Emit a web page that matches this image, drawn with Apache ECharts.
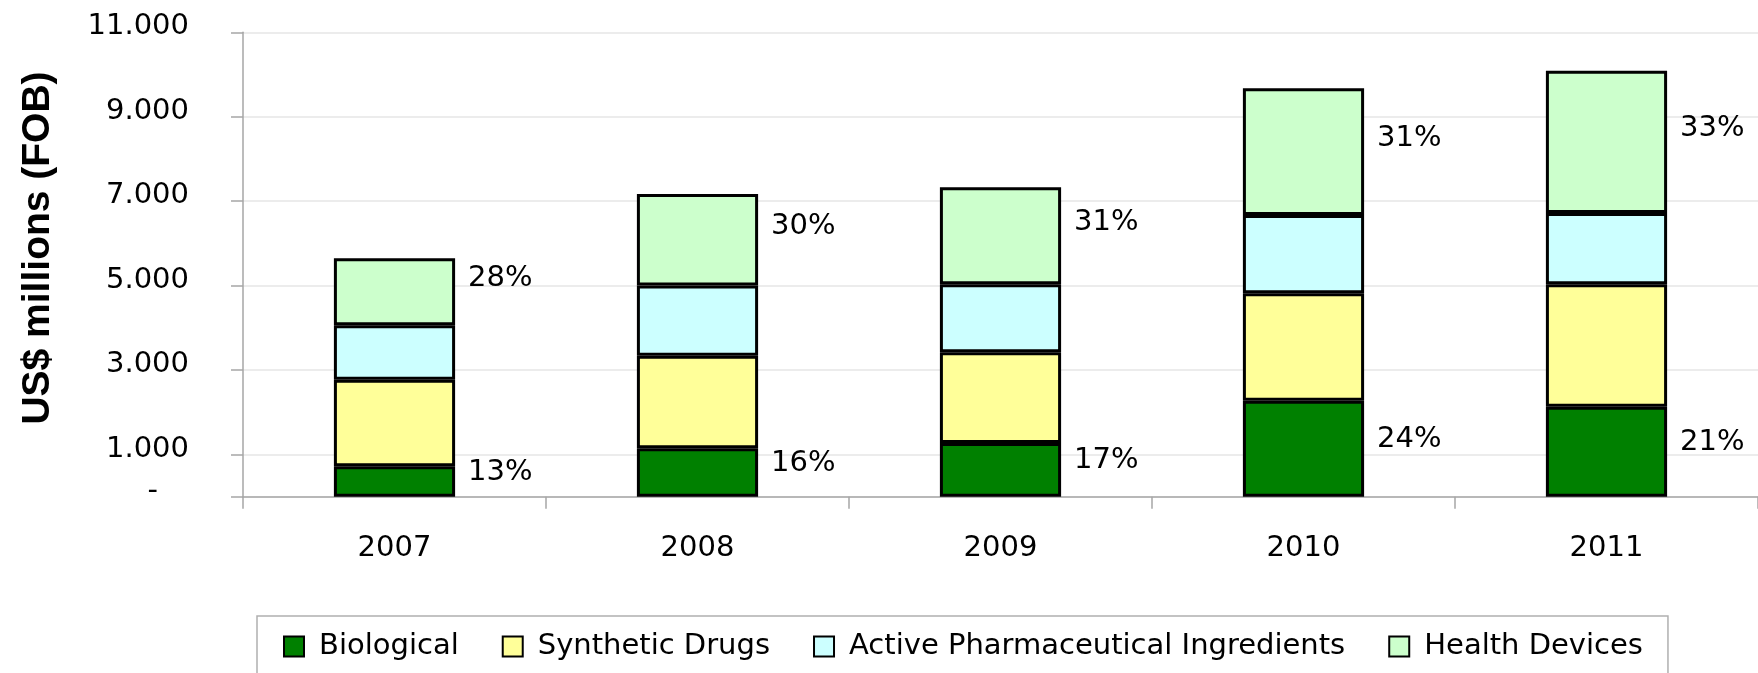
<!DOCTYPE html>
<html>
<head>
<meta charset="utf-8">
<script src="https://cdn.jsdelivr.net/npm/echarts@6/dist/echarts.min.js"></script>
<style>
  html, body { margin: 0; padding: 0; background: #fff; }
  #chart { width: 1758px; height: 673px; }
</style>
</head>
<body>
<div id="chart"></div>
<script>
  // values, US$ millions (FOB)
  var years = ['2007', '2008', '2009', '2010', '2011'];
  var biological = [720, 1145, 1270, 2275, 2130];
  var syntheticDrugs = [2050, 2195, 2150, 2545, 2900];
  var activeIngredients = [1290, 1660, 1610, 1855, 1690];
  var healthDevices = [1590, 2170, 2300, 3000, 3370];

  // share labels printed next to the bars
  var biologicalShare = ['13%', '16%', '17%', '24%', '21%'];
  var devicesShare = ['28%', '30%', '31%', '31%', '33%'];

  // y axis: labelled ticks and their texts
  var yTicks = [0, 1000, 3000, 5000, 7000, 9000, 11000];
  var yTickText = ['-', '1.000', '3.000', '5.000', '7.000', '9.000', '11.000'];

  var FONT = '"DejaVu Sans", Verdana, sans-serif';

  var chart = echarts.init(document.getElementById('chart'));

  function shareLabel(texts, dy) {
    return {
      show: true,
      position: 'right',
      distance: 13,
      offset: [0, dy],
      color: '#000',
      fontFamily: FONT,
      fontSize: 29,
      formatter: function (p) { return texts[p.dataIndex]; }
    };
  }

  function barSeries(name, data, color, label) {
    var s = {
      name: name,
      type: 'bar',
      stack: 'total',
      barWidth: '40%',
      data: data,
      itemStyle: { color: color, borderColor: '#000', borderWidth: 3 },
      emphasis: { disabled: true }
    };
    if (label) { s.label = label; }
    return s;
  }

  var option = {
    animation: false,
    backgroundColor: '#fff',
    textStyle: { fontFamily: FONT },
    grid: { left: 243, top: 32.3, width: 1520, height: 464.4 },
    legend: {
      left: 257,
      top: 616,
      padding: [16, 25, 16, 26],
      borderColor: '#b0b0b0',
      borderWidth: 1.5,
      itemWidth: 20,
      itemHeight: 20,
      itemGap: 43,
      icon: 'rect',
      textStyle: { color: '#000', fontFamily: FONT, fontSize: 29, padding: [0, 0, 0, 10] },
      data: ['Biological', 'Synthetic Drugs', 'Active Pharmaceutical Ingredients', 'Health Devices']
    },
    xAxis: {
      type: 'category',
      data: years,
      boundaryGap: true,
      axisLine: { lineStyle: { color: '#a6a6a6', width: 1.5 } },
      axisTick: { show: true, length: 12, lineStyle: { color: '#a6a6a6', width: 1.5 } },
      axisLabel: { color: '#000', fontFamily: FONT, fontSize: 29, margin: 37 }
    },
    yAxis: {
      type: 'value',
      min: 0,
      max: 11000,
      interval: 1000,
      axisLine: { show: true, lineStyle: { color: '#a6a6a6', width: 1.5 } },
      axisTick: {
        show: true, length: 12, customValues: yTicks,
        lineStyle: { color: '#a6a6a6', width: 1.5 }
      },
      splitLine: { show: true, lineStyle: { color: '#e6e6e6', width: 1.5 } },
      axisLabel: {
        customValues: yTicks,
        color: '#000',
        fontFamily: FONT,
        fontSize: 29,
        margin: 54,
        padding: [0, 0, 11, 0],
        formatter: function (v) {
          var i = yTicks.indexOf(v);
          if (i < 0) { return ''; }
          return v === 0 ? '{dash|' + yTickText[i] + '}' : yTickText[i];
        },
        rich: {
          dash: { fontFamily: FONT, fontSize: 29, color: '#000', padding: [0, 31, 0, 0] }
        }
      }
    },
    graphic: [{
      type: 'text',
      x: 38,
      y: 248,
      rotation: Math.PI / 2,
      style: {
        text: 'US$ millions (FOB)',
        fill: '#000',
        font: 'bold 39px "Liberation Sans", Arial, sans-serif',
        align: 'center',
        verticalAlign: 'middle'
      }
    }],
    series: [
      barSeries('Biological', biological, '#008000', shareLabel(biologicalShare, -9)),
      barSeries('Synthetic Drugs', syntheticDrugs, '#FFFF99'),
      barSeries('Active Pharmaceutical Ingredients', activeIngredients, '#CCFFFF'),
      barSeries('Health Devices', healthDevices, '#CCFFCC', shareLabel(devicesShare, -13))
    ]
  };

  chart.setOption(option);
</script>
</body>
</html>
